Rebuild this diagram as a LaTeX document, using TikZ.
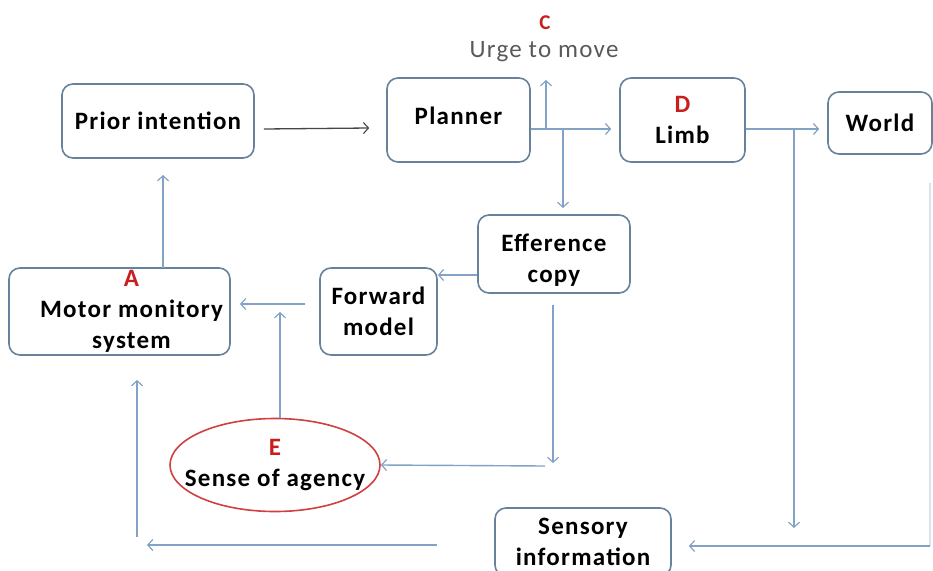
\documentclass[tikz,border=0pt]{standalone}
\usepackage{fontspec}
\setmainfont{Carlito}[LetterSpace=5]
\usetikzlibrary{arrows.meta,shapes.geometric}
\definecolor{boxc}{RGB}{105,130,155}
\definecolor{arrc}{RGB}{130,162,198}
\definecolor{darkarr}{RGB}{70,70,70}
\definecolor{lblred}{RGB}{200,30,30}
\definecolor{faint}{RGB}{218,226,236}
\tikzset{
  box/.style={draw=boxc, line width=1.6pt, rounded corners=11pt, fill=white,
    align=center, font=\fontsize{25}{31}\selectfont\bfseries, inner sep=0pt},
  conn/.style={draw=arrc, line width=1.4pt, -{Straight Barb[length=5pt,width=11pt,line width=1.2pt]}},
  lbl/.style={text=lblred, font=\bfseries}
}
\begin{document}
\begin{tikzpicture}[x=1pt,y=-1pt]
\useasboundingbox (0,0) rectangle (933,570);
% boxes
\node[box, minimum width=192pt, minimum height=74pt] (prior) at (158,121) {Prior intention};
\node[box, minimum width=143pt, minimum height=84pt] (planner) at (458.5,120) {\raisebox{8pt}{Planner}};
\node[box, minimum width=125pt, minimum height=84pt] (limb) at (682.5,120) {\textcolor{lblred}{D}\\Limb};
\node[box, minimum width=104pt, minimum height=62pt] (world) at (880,123) {World};
\node[box, minimum width=152pt, minimum height=78pt] (eff) at (554,254) {\raisebox{-13pt}[0pt][0pt]{\begin{tabular}{@{}c@{}}Efference\\copy\end{tabular}}};
\node[box, minimum width=117pt, minimum height=87pt] (fwd) at (378.5,311.5) {Forward\\model};
\node[box, minimum width=221pt, minimum height=87pt] (motor) at (119.5,311.5) {\hspace*{24pt}\textcolor{lblred}{A}\\\hspace*{24pt}Motor monitory\\\hspace*{24pt}system};
\node[ellipse, draw=lblred!85!white, line width=1.6pt, fill=white, minimum width=210pt, minimum height=93pt, inner xsep=-40pt, inner ysep=-20pt, align=center, font=\fontsize{25}{31}\selectfont\bfseries] (soa) at (275,465) {\textcolor{lblred}{E}\\Sense of agency};
\node[box, minimum width=176pt, minimum height=68pt] (sens) at (583,542) {Sensory\\information};
% urge to move
\node[font=\fontsize{25}{25}\selectfont, text=black!65, inner sep=0pt] (urge) at (544,52) {Urge to move};
\node[font=\fontsize{21}{21}\selectfont\bfseries, text=lblred, inner sep=0pt] (clbl) at (545,23) {C};
% coordinates
\coordinate (pl1) at (546,129);
\coordinate (pl2) at (563,129);
\coordinate (urgetip) at (546,80);
\coordinate (efftip) at (563,208);
\coordinate (lw) at (794,129);
\coordinate (lwdown) at (794,528);
\coordinate (mtop) at (163,268);
\coordinate (ptip) at (163,175);
\coordinate (fwdout) at (305,304);
\coordinate (fwdtip) at (240,304);
\coordinate (soatip) at (280,312);
\coordinate (effdown1) at (553,305);
\coordinate (effdown2) at (553,463);
\coordinate (hstart) at (545,466);
\coordinate (sleft) at (437,545);
\coordinate (stip) at (147,545);
\coordinate (vbot) at (137,537);
\coordinate (vtip) at (137,380);
\coordinate (rtop) at (930,183);
\coordinate (rbot) at (930,546);
% connectors
\draw[draw=darkarr, line width=1.3pt, -{Straight Barb[length=5pt,width=11pt,line width=1.1pt]}] ([xshift=9pt,yshift=-8pt]prior.east) -- ([xshift=-17pt,yshift=-8pt]planner.west);
\draw[conn] (planner.east |- pl1) -- ([xshift=-8pt]limb.west |- pl1);
\draw[conn] (pl1) -- (urgetip);
\draw[conn] (pl2) -- (efftip);
\draw[conn] (limb.east |- lw) -- ([xshift=-8pt]world.west |- lw);
\draw[conn] (lw) -- (lwdown);
\draw[conn] (eff.west |- 0,275) -- (fwd.east |- 0,275);
\draw[conn] (fwdout) -- (fwdtip);
\draw[conn] (soa.north -| soatip) -- (soatip);
\draw[conn] (effdown1) -- (effdown2);
\draw[conn] (hstart) -- (soa.east);
\draw[conn] (sleft) -- (stip);
\draw[conn] (vbot) -- (vtip);
\draw[conn] (mtop) -- (ptip);
\draw[draw=faint, line width=1.2pt] (rtop) -- (rbot);
\draw[conn] (rbot) -- ([xshift=17pt]sens.east |- rbot);
\end{tikzpicture}
\end{document}
